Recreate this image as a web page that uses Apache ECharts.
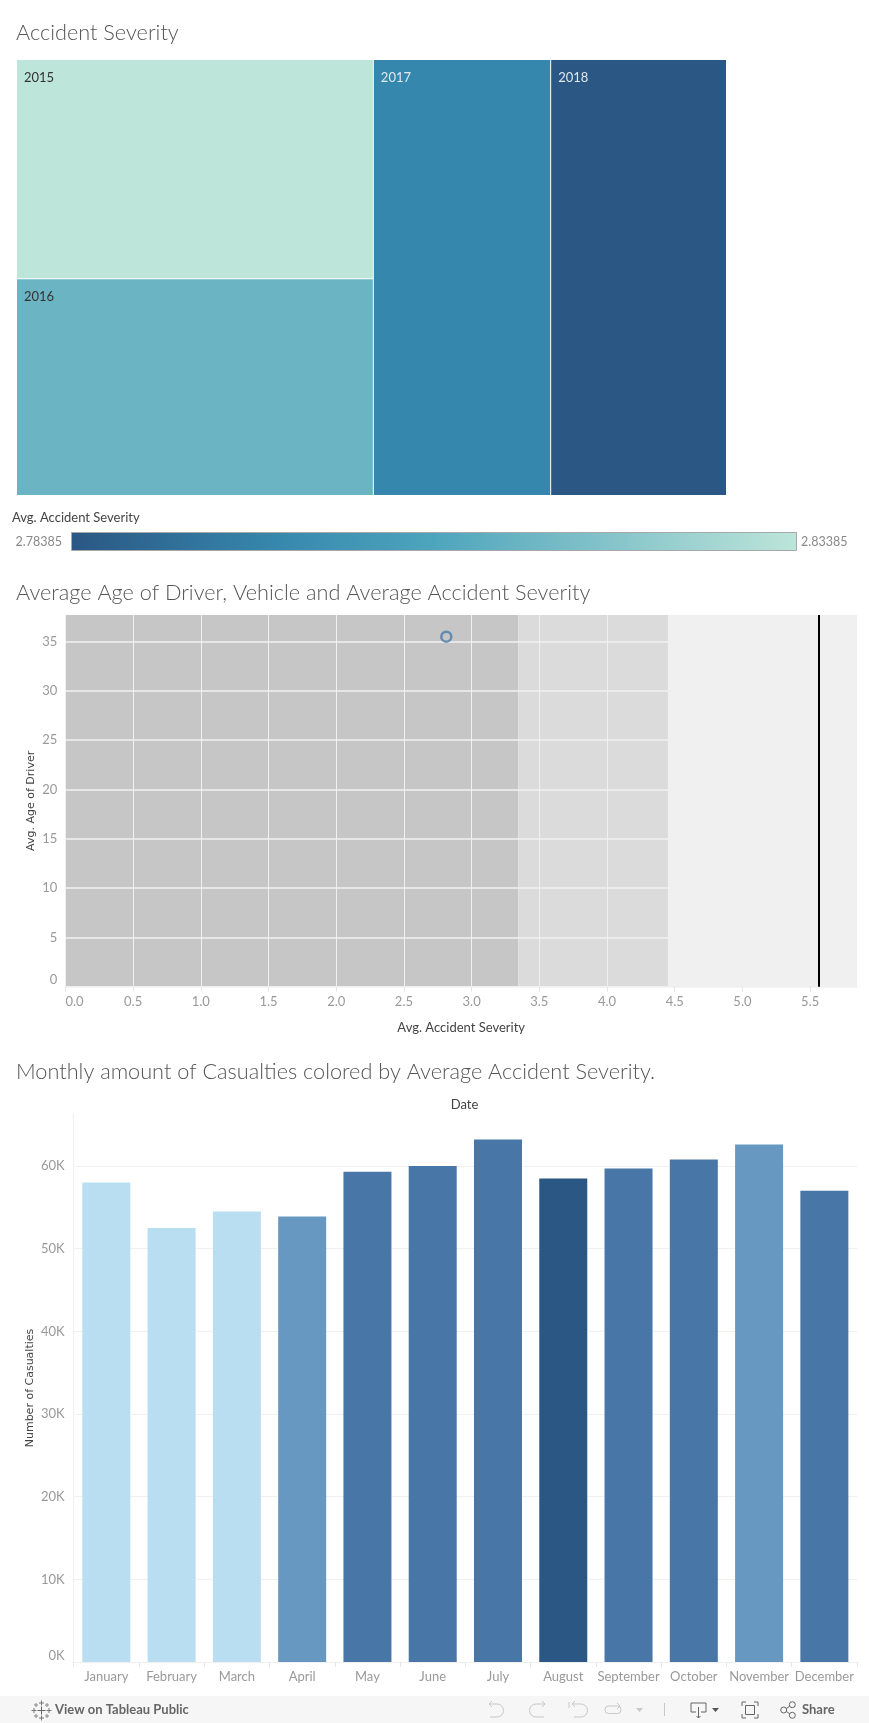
<!DOCTYPE html>
<html><head><meta charset="utf-8">
<script src="https://cdn.jsdelivr.net/npm/echarts@6/dist/echarts.min.js"></script>
<style>html,body{margin:0;padding:0;background:#fff}#c{width:869px;height:1723px}</style>
</head><body><div id="c"></div>
<script>
var years = ['2015','2016','2017','2018'];
var yearAreas = [77930, 77000, 76990, 76340];
var yearSeverity = [2.83385, 2.8149, 2.79785, 2.78385];
var legendMin = 2.78385, legendMax = 2.83385;

var avgSeverity = 2.813, avgDriverAge = 35.5, avgVehicleAge = 5.56;
var bandEdges = [0, 3.345, 4.45, 5.846];
var xTicks = 0.5, yTicks = 5;

var months = ['January','February','March','April','May','June','July','August','September','October','November','December'];
var casualties = [58000,52500,54500,53900,59300,60000,63200,58500,59700,60800,62600,57000];
var monthSeverityLevel = [0,0,0,1,2,2,2,3,2,2,1,2];

var FONT = 'Lato';
var bandColors = ['#c6c6c6','#dbdbdb','#f0f0f0'];
var barPalette = ['#b9ddf1','#6798c1','#4876a7','#2a5783'];
var stops = [[0,'#2a5783'],[0.28,'#3687ad'],[0.5,'#4da5bd'],[0.62,'#6ab4c3'],[1,'#bde5d9']];

function hex(c){return [1,3,5].map(function(i){return parseInt(c.substr(i,2),16);});}
function sevColor(v){
  var t=(v-legendMin)/(legendMax-legendMin);
  for(var i=1;i<stops.length;i++){
    if(t<=stops[i][0]){
      var a=stops[i-1],b=stops[i],k=(t-a[0])/(b[0]-a[0]),x=hex(a[1]),y=hex(b[1]);
      return 'rgb('+x.map(function(q,j){return Math.round(q+(y[j]-q)*k);}).join(',')+')';
    }
  }
  return stops[stops.length-1][1];
}

var titleStyle={fontFamily:FONT,fontSize:21.7,fontWeight:300,color:'#555'};
var axisNameStyle={fontFamily:FONT,fontSize:13,fontWeight:'normal',color:'#444'};
var vNameStyle={fontFamily:'"DejaVu Sans"',fontSize:11,color:'#444'};
var tickStyle={fontFamily:FONT,fontSize:13,color:'#999'};

var chart=echarts.init(document.getElementById('c'),null,{renderer:'canvas'});
var gridA={left:65.4,top:615,width:791.6,height:371.7};
var gridB={left:73.7,top:1114,width:783.3,height:548};

var LIGHT='#c8c8c8', DARK='#666';
function pl(pts,c){return {type:'polyline',silent:true,shape:{points:pts},style:{stroke:c,fill:null,lineWidth:1}};}
function ar(cx,cy,r,a0,a1,c){return {type:'arc',silent:true,shape:{cx:cx,cy:cy,r:r,startAngle:a0,endAngle:a1,clockwise:true},style:{stroke:c,fill:null,lineWidth:1}};}
function ci(cx,cy,r,c){return {type:'circle',silent:true,shape:{cx:cx,cy:cy,r:r},style:{stroke:c,fill:null,lineWidth:1}};}
function tri(x0,x1,y0,y1,c){return {type:'polygon',silent:true,shape:{points:[[x0,y0],[x1,y0],[(x0+x1)/2,y1]]},style:{fill:c}};}
function plus(cx,cy,r,c){return [pl([[cx-r,cy],[cx+r,cy]],c),pl([[cx,cy-r],[cx,cy+r]],c)];}
var PI=Math.PI;
var toolbar=[
 {type:'rect',silent:true,shape:{x:0,y:1696,width:869,height:27},style:{fill:'#f6f6f6'}},
 {type:'text',silent:true,x:55,y:1709.5,style:{text:'View on Tableau Public',fontFamily:FONT,fontSize:13,fontWeight:'bold',fill:'#666',verticalAlign:'middle'}},
 {type:'text',silent:true,x:802,y:1709.5,style:{text:'Share',fontFamily:FONT,fontSize:13,fontWeight:'bold',fill:'#666',verticalAlign:'middle'}},
 pl([[489,1704],[497,1704]],LIGHT),pl([[492,1701],[489,1704],[492,1707]],LIGHT),ar(497,1710.5,6.5,-PI/2,PI/2,LIGHT),pl([[497,1717],[490,1717]],LIGHT),
 pl([[536,1704],[545,1704]],LIGHT),pl([[542,1701],[545,1704],[542,1707]],LIGHT),ar(536,1710.5,6.5,PI/2,PI*1.5,LIGHT),pl([[536,1717],[544,1717]],LIGHT),
 pl([[569,1702],[569,1708]],LIGHT),pl([[572,1704],[581,1704]],LIGHT),pl([[575,1701],[572,1704],[575,1707]],LIGHT),ar(581,1710.5,6.5,-PI/2,PI/2,LIGHT),pl([[581,1717],[574,1717]],LIGHT),
 {type:'rect',silent:true,shape:{x:605,y:1706,width:16,height:7.5,r:3.5},style:{stroke:LIGHT,fill:null,lineWidth:1}},
 pl([[617,1703],[620,1706],[617,1709]],LIGHT),
 tri(636,643,1708,1712,LIGHT),
 pl([[664.5,1703],[664.5,1716]],LIGHT),
 pl([[696,1712],[691,1712],[691,1703],[706,1703],[706,1712],[701,1712]],DARK),pl([[698.5,1707],[698.5,1718]],DARK),pl([[696.5,1716],[698.5,1718],[700.5,1716]],DARK),
 tri(712,719,1708,1712,'#555'),
 pl([[742,1706],[742,1702],[746,1702]],DARK),pl([[754,1702],[758,1702],[758,1706]],DARK),pl([[742,1714],[742,1718],[746,1718]],DARK),pl([[754,1718],[758,1718],[758,1714]],DARK),
 {type:'rect',silent:true,shape:{x:745.5,y:1705.5,width:9,height:9},style:{stroke:DARK,fill:null,lineWidth:1}},
 ci(783.7,1710,3,DARK),ci(792.3,1704.7,3,DARK),ci(792.3,1715.3,3,DARK),
 pl([[786.3,1708.5],[789.7,1706.3]],DARK),pl([[786.3,1711.5],[789.7,1713.7]],DARK)
];
[[41,1710,4,'#666'],[41,1702.5,2.5,'#777'],[41,1717.5,2.5,'#777'],[33.5,1710,2.5,'#777'],[48.5,1710,2.5,'#777'],[35.5,1704.5,2,'#888'],[46.5,1704.5,2,'#888'],[35.5,1715.5,2,'#888'],[46.5,1715.5,2,'#888']].forEach(function(p){
  toolbar=toolbar.concat(plus(p[0]+0.5,p[1]+0.5,p[2],p[3]));
});

chart.setOption({
 animation:false,
 backgroundColor:'#fff',
 title:[
  {text:'Accident Severity',left:16,top:22,padding:0,textStyle:titleStyle},
  {text:'Average Age of Driver, Vehicle and Average Accident Severity',left:16,top:582,padding:0,textStyle:titleStyle},
  {text:'Monthly amount of Casualties colored by Average Accident Severity.',left:16,top:1061,padding:0,textStyle:titleStyle},
  {text:'Date',left:464.5,top:1098,padding:0,textAlign:'center',textStyle:axisNameStyle},
  {text:'Avg. Accident Severity',left:12,top:511,padding:0,textStyle:axisNameStyle}
 ],
 grid:[gridA,gridB],
 xAxis:[
  {gridIndex:0,type:'value',min:0,max:bandEdges[3],interval:xTicks,z:2,
   name:'Avg. Accident Severity',nameLocation:'middle',nameGap:35,nameTextStyle:axisNameStyle,
   axisLine:{show:true,onZero:false,lineStyle:{color:'#f0f0f0'}},
   axisTick:{show:true,length:5,lineStyle:{color:'#e6e6e6'}},
   splitLine:{show:true,showMaxLine:false,lineStyle:{color:'#f0f0f0',width:1}},
   axisLabel:{margin:9,formatter:function(v){return v.toFixed(1);},alignMinLabel:'left',showMaxLabel:false,color:tickStyle.color,fontFamily:tickStyle.fontFamily,fontSize:tickStyle.fontSize}},
  {gridIndex:1,type:'category',data:months,
   axisLine:{show:true,lineStyle:{color:'#f0f0f0'}},
   axisTick:{show:true,length:5,alignWithLabel:false,lineStyle:{color:'#e6e6e6'}},
   axisLabel:{margin:8,interval:0,color:tickStyle.color,fontFamily:tickStyle.fontFamily,fontSize:tickStyle.fontSize}}
 ],
 yAxis:[
  {gridIndex:0,type:'value',min:0,max:37.7,interval:yTicks,z:2,
   name:'Avg. Age of Driver',nameLocation:'middle',nameGap:29,nameMoveOverlap:false,nameTextStyle:vNameStyle,
   axisLine:{show:false},axisTick:{show:false},
   splitLine:{show:true,showMaxLine:false,lineStyle:{color:'#f0f0f0',width:1.5}},
   axisLabel:{margin:8,showMaxLabel:false,verticalAlignMinLabel:'bottom',color:tickStyle.color,fontFamily:tickStyle.fontFamily,fontSize:tickStyle.fontSize}},
  {gridIndex:1,type:'value',min:0,max:66300,interval:10000,
   name:'Number of Casualties',nameLocation:'middle',nameGap:38,nameMoveOverlap:false,nameTextStyle:vNameStyle,
   axisLine:{show:true,lineStyle:{color:'#f0f0f0'}},axisTick:{show:false},
   splitLine:{show:true,showMaxLine:false,lineStyle:{color:'#f0f0f0',width:1}},
   axisLabel:{margin:9,showMaxLabel:false,verticalAlignMinLabel:'bottom',formatter:function(v){return (v/1000)+'K';},color:tickStyle.color,fontFamily:tickStyle.fontFamily,fontSize:tickStyle.fontSize}}
 ],
 series:[
  {type:'treemap',left:17,top:60,width:709,height:435,roam:false,nodeClick:false,squareRatio:2,
   breadcrumb:{show:false},
   levels:[{itemStyle:{gapWidth:1,borderWidth:0,borderColor:'#fff'}}],
   label:{show:true,position:'insideTopLeft',distance:0,padding:[11,0,0,7],fontFamily:FONT,fontSize:13,formatter:'{b}'},
   data:years.map(function(y,i){
     return {name:y,value:yearAreas[i],itemStyle:{color:sevColor(yearSeverity[i])},
       label:{color:i<2?'#333':'#dfe9ee'}};
   })},
  {type:'scatter',xAxisIndex:0,yAxisIndex:0,z:5,symbol:'circle',symbolSize:10,
   itemStyle:{color:'rgba(255,255,255,0)',borderColor:'#4e79a7',borderWidth:2.5},
   data:[[avgSeverity,avgDriverAge]],
   markArea:{silent:true,z:1,data:bandColors.map(function(c,i){
     return [{xAxis:bandEdges[i],itemStyle:{color:c,opacity:1}},{xAxis:bandEdges[i+1]}];
   })},
   markLine:{silent:true,symbol:'none',z:6,label:{show:false},
     lineStyle:{color:'#000',width:2,type:'solid'},data:[{xAxis:avgVehicleAge}]}},
  {type:'bar',xAxisIndex:1,yAxisIndex:1,barWidth:48,
   data:casualties.map(function(v,i){
     return {value:v,itemStyle:{color:barPalette[monthSeverityLevel[i]]}};
   })}
 ],
 graphic:[
  {type:'rect',shape:{x:71.5,y:532.5,width:725,height:18},
   style:{stroke:'#a8a8a8',lineWidth:1,
     fill:new echarts.graphic.LinearGradient(0,0,1,0,stops.map(function(s){return {offset:s[0],color:s[1]};}))},silent:true},
  {type:'text',x:62,y:541.5,style:{text:String(legendMin),align:'right',verticalAlign:'middle',fontFamily:FONT,fontSize:12.5,fill:'#888'}},
  {type:'text',x:801,y:541.5,style:{text:String(legendMax),align:'left',verticalAlign:'middle',fontFamily:FONT,fontSize:12.5,fill:'#888'}}
 ].concat(toolbar)
});
</script></body></html>
